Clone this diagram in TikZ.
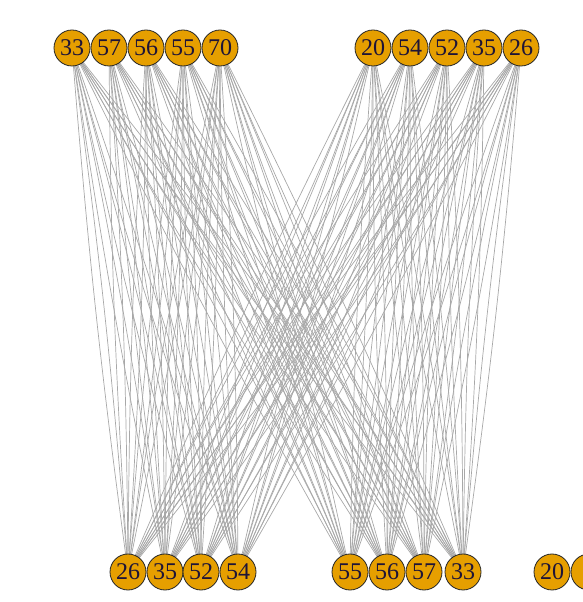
\documentclass[tikz,border=0pt]{standalone}
\usepackage{fontspec}
\setmainfont{Liberation Serif}
\definecolor{vfill}{RGB}{230,159,0}
\definecolor{edgec}{RGB}{168,168,168}
\definecolor{labc}{RGB}{30,20,55}
\tikzset{
  vtx/.style={circle, draw=black!85, line width=0.8pt, fill=vfill, minimum size=36pt, inner sep=0pt, text=labc, font=\fontsize{24}{24}\selectfont},
  edg/.style={draw=edgec, line width=0.7pt}
}
\begin{document}
\begin{tikzpicture}[x=1pt,y=1pt]
\useasboundingbox (0,0) rectangle (583,602);
\clip (0,0) rectangle (583,602);
% coordinates of nodes
\foreach \n/\x in {t1/72,t2/109,t3/146,t4/183,t5/220,t6/373,t7/410,t8/447,t9/484,t10/521}
  \coordinate (c\n) at (\x,554);
\foreach \n/\x in {b1/128,b2/165,b3/201,b4/238,b5/350,b6/387,b7/424,b8/463}
  \coordinate (c\n) at (\x,30);
% edges (multi-edges drawn slightly curved)
\foreach \a in {t1,t2,t3,t4,t5,t6,t7,t8,t9,t10}
  \foreach \b in {b1,b2,b3,b4,b5,b6,b7,b8}
  {
    \draw[edg] (c\a) to[bend left=1.6] (c\b);
    \draw[edg] (c\a) to[bend right=1.6] (c\b);
  }
% nodes
\foreach \n/\x/\l in {t1/72/33,t2/109/57,t3/146/56,t4/183/55,t5/220/70,t6/373/20,t7/410/54,t8/447/52,t9/484/35,t10/521/26}
  \node[vtx] (\n) at (c\n) {\l};
\foreach \n/\x/\l in {b1/128/26,b2/165/35,b3/201/52,b4/238/54,b5/350/55,b6/387/56,b7/424/57,b8/463/33,b9/552/20}
  \node[vtx] (\n) at (\x,30) {\l};
\node[vtx] (b10) at (589,30) {};
\end{tikzpicture}
\end{document}
